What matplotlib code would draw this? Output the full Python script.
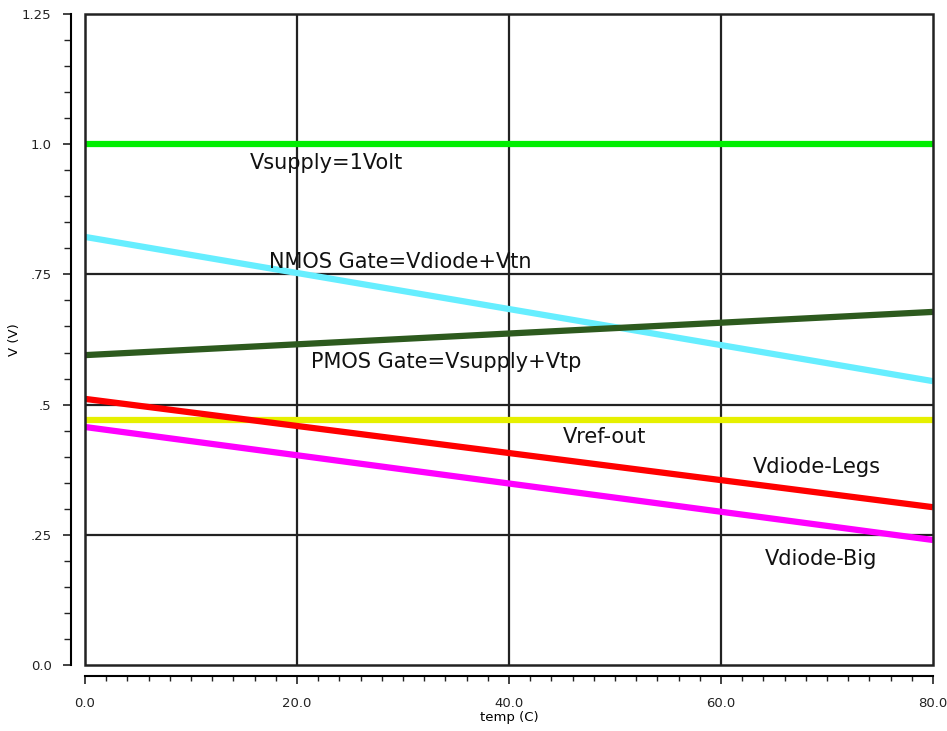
import matplotlib.pyplot as plt
from matplotlib.patches import Rectangle
from matplotlib.ticker import MultipleLocator

# temperature sweep end points (C) and node voltages (V)
temp = [0.0, 80.0]
vsupply = [1.0, 1.0]
nmos_gate = [0.822, 0.545]
pmos_gate = [0.595, 0.678]
vref_out = [0.470, 0.470]
vdiode_legs = [0.511, 0.303]
vdiode_big = [0.457, 0.240]

yticks = [0.0, 0.25, 0.5, 0.75, 1.0, 1.25]
ytick_labels = ["0.0", ".25", ".5", ".75", "1.0", "1.25"]
xticks = [0, 20, 40, 60, 80]
xtick_labels = ["0.0", "20.0", "40.0", "60.0", "80.0"]

series = [
    (vsupply, "#00ee00", "Vsupply=1Volt", (15.57, 0.952)),
    (nmos_gate, "#66eeff", "NMOS Gate=Vdiode+Vtn", (17.36, 0.762)),
    (pmos_gate, "#2d5a1e", "PMOS Gate=Vsupply+Vtp", (21.32, 0.570)),
    (vref_out, "#e6f000", "Vref-out", (45.09, 0.426)),
    (vdiode_legs, "#ff0000", "Vdiode-Legs", (63.02, 0.369)),
    (vdiode_big, "#ff00ff", "Vdiode-Big", (64.15, 0.192)),
]

fig = plt.figure(figsize=(9.47, 7.31), dpi=100)
ax = fig.add_axes([85 / 947, 66 / 731, 848 / 947, 651 / 731])

ax.set_xlim(0, 80)
ax.set_ylim(0, 1.25)

# grid at major ticks
for x in xticks[1:-1]:
    ax.axvline(x, color="#222222", lw=1.6, zorder=1)
for y in yticks[1:-1]:
    ax.axhline(y, color="#222222", lw=1.6, zorder=1)

for vals, col, label, pos in series:
    ax.plot(temp, vals, color=col, lw=4.5, solid_capstyle="butt", zorder=3)
    ax.text(pos[0], pos[1], label, fontsize=15, va="baseline", ha="left",
            color="#111111", zorder=4)

# plot frame
ax.add_patch(Rectangle((0, 0), 1, 1, transform=ax.transAxes, fill=False,
                       lw=1.8, ec="#222222", zorder=5, clip_on=False))

# detached axis lines
for side in ["top", "right"]:
    ax.spines[side].set_visible(False)
ax.spines["left"].set_position(("outward", 10))
ax.spines["bottom"].set_position(("outward", 8))
ax.spines["left"].set_linewidth(1.5)
ax.spines["bottom"].set_linewidth(1.5)

ax.set_xticks(xticks)
ax.set_xticklabels(xtick_labels)
ax.set_yticks(yticks)
ax.set_yticklabels(ytick_labels)
ax.xaxis.set_minor_locator(MultipleLocator(2))
ax.yaxis.set_minor_locator(MultipleLocator(0.05))
ax.tick_params(axis="both", which="major", direction="out", length=6, width=1.2,
               labelsize=9.5, colors="#222222")
ax.tick_params(axis="y", which="major", pad=8)
ax.tick_params(axis="x", which="major", pad=9)
ax.tick_params(axis="both", which="minor", direction="out", length=5, width=1.0,
               colors="#222222")
ax.tick_params(axis="x", which="minor", length=3.5)

ax.set_xlabel("temp (C)", fontsize=9.5, labelpad=1)
ax.set_ylabel("V (V)", fontsize=9.5, labelpad=1)

fig.savefig("out.png", dpi=100)
